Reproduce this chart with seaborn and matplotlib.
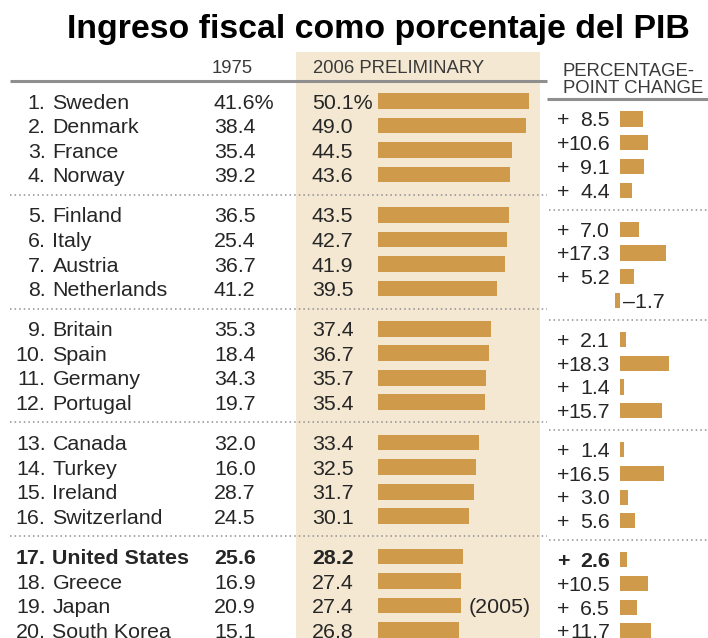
import numpy as np
import pandas as pd
import matplotlib
matplotlib.use("Agg")
import matplotlib.pyplot as plt
import matplotlib.transforms as mtransforms
from matplotlib.lines import Line2D
from matplotlib.patches import Rectangle
import seaborn as sns

# ---------------- data ----------------
ranks = list(range(1, 21))
countries = ["Sweden", "Denmark", "France", "Norway",
             "Finland", "Italy", "Austria", "Netherlands",
             "Britain", "Spain", "Germany", "Portugal",
             "Canada", "Turkey", "Ireland", "Switzerland",
             "United States", "Greece", "Japan", "South Korea"]
val_1975 = [41.6, 38.4, 35.4, 39.2, 36.5, 25.4, 36.7, 41.2, 35.3, 18.4,
            34.3, 19.7, 32.0, 16.0, 28.7, 24.5, 25.6, 16.9, 20.9, 15.1]
val_2006 = [50.1, 49.0, 44.5, 43.6, 43.5, 42.7, 41.9, 39.5, 37.4, 36.7,
            35.7, 35.4, 33.4, 32.5, 31.7, 30.1, 28.2, 27.4, 27.4, 26.8]
change = [8.5, 10.6, 9.1, 4.4, 7.0, 17.3, 5.2, -1.7, 2.1, 18.3,
          1.4, 15.7, 1.4, 16.5, 3.0, 5.6, 2.6, 10.5, 6.5, 11.7]
highlight = "United States"
notes = {"Japan": "(2005)"}
title = "Ingreso fiscal como porcentaje del PIB"
col_headers = ["1975", "2006 PRELIMINARY"]
chg_header = ["PERCENTAGE-", "POINT CHANGE"]

# ---------------- style ----------------
sns.set_style("white")
plt.rcParams["font.family"] = ["Liberation Sans", "DejaVu Sans"]

W, H = 708, 638
BAR = "#cf9a4a"
BAND = "#f4e8d2"
TXT = "#262626"
HDR = "#3a3a3a"
LINE = "#8f8f8f"
FS = 15.4
HFS = 13.3

fig = plt.figure(figsize=(W / 100, H / 100), dpi=100)


def rect(x0, y0, x1, y1):
    return [x0 / W, 1 - y1 / H, (x1 - x0) / W, (y1 - y0) / H]


bg = fig.add_axes([0, 0, 1, 1])
bg.set_xlim(0, W)
bg.set_ylim(H, 0)
bg.axis("off")
bg.add_patch(Rectangle((296, 52), 244, H - 52, color=BAND, lw=0, zorder=0))

GAP = 0.64
pos = [i + (i // 4) * GAP for i in range(len(countries))]
df = pd.DataFrame({"pos": pos, "v06": val_2006, "chg": change})

# 2006 bars axes: x=0 at pixel 378, 3.02 px/unit ; row pos 0 at pixel 101, 24.54 px/row
L0, LS = 101, 24.54
ax06 = fig.add_axes(rect(378, 52, 548, H))
sns.barplot(data=df, x="v06", y="pos", orient="y", native_scale=True,
            width=0.64, color=BAR, saturation=1, errorbar=None,
            linewidth=0, ax=ax06)
ax06.set_xlim(0, 170 / 3.02)
ax06.set_ylim((H - L0) / LS, (52 - L0) / LS)
ax06.axis("off")

# change bars axes: x=0 at pixel 620, 2.67 px/unit ; row pos 0 at pixel 119, 23.75 px/row
R0, RS = 119, 23.75
axC = fig.add_axes(rect(548, 100, 708, H))
sns.barplot(data=df, x="chg", y="pos", orient="y", native_scale=True,
            width=0.64, color=BAR, saturation=1, errorbar=None,
            linewidth=0, ax=axC)
axC.set_xlim((548 - 620) / 2.67, (708 - 620) / 2.67)
axC.set_ylim((H - R0) / RS, (100 - R0) / RS)
axC.axis("off")

transL = mtransforms.blended_transform_factory(bg.transData, ax06.transData)
transR = mtransforms.blended_transform_factory(bg.transData, axC.transData)

BL = 0.31  # baseline offset (rows)
for r, c, a, b, d, p in zip(ranks, countries, val_1975, val_2006, change, pos):
    fw = "bold" if c == highlight else "normal"
    kw = dict(fontsize=FS, color=TXT, fontweight=fw, va="baseline")
    y = p + BL
    bg.text(45.5, y, f"{r}.", ha="right", transform=transL, **kw)
    bg.text(52.5, y, c, ha="left", transform=transL, **kw)
    s75 = f"{a:.1f}%" if r == 1 else f"{a:.1f}"
    s06 = f"{b:.1f}%" if r == 1 else f"{b:.1f}"
    bg.text(214, y, s75, ha="left", transform=transL, **kw)
    bg.text(312, y, s06, ha="left", transform=transL, **kw)
    if c in notes:
        bg.text(469, y, notes[c], ha="left", transform=transL, **kw)
    yr = p + BL
    if d >= 0:
        bg.text(557, yr, "+", ha="left", transform=transR, **kw)
        bg.text(610, yr, f"{d:.1f}", ha="right", transform=transR, **kw)
    else:
        bg.text(623, yr, f"\u2013{abs(d):.1f}", ha="left", transform=transR, **kw)

# separators
for g in range(1, 5):
    ym = (pos[4 * g - 1] + pos[4 * g]) / 2
    fig.add_artist(Line2D([10, 547], [ym, ym], transform=transL, color=LINE,
                          lw=1.1, linestyle=(0, (1, 2))))
    fig.add_artist(Line2D([549, 708], [ym, ym], transform=transR, color=LINE,
                          lw=1.1, linestyle=(0, (1, 2))))

# header
bg.plot([10, 547], [81, 81], color=LINE, lw=2.2, solid_capstyle="butt")
bg.plot([547, 708], [99, 99], color=LINE, lw=2.2, solid_capstyle="butt")
bg.text(212, 73, col_headers[0], fontsize=HFS, color=HDR, ha="left", va="baseline")
bg.text(313, 73, col_headers[1], fontsize=HFS, color=HDR, ha="left", va="baseline")
bg.text(563, 76, chg_header[0], fontsize=HFS, color=HDR, ha="left", va="baseline")
bg.text(563, 93, chg_header[1], fontsize=HFS, color=HDR, ha="left", va="baseline")

bg.text(378, 38, title, fontsize=24.4, fontweight="bold", color="black",
        ha="center", va="baseline")

fig.savefig("out.png", dpi=100)
